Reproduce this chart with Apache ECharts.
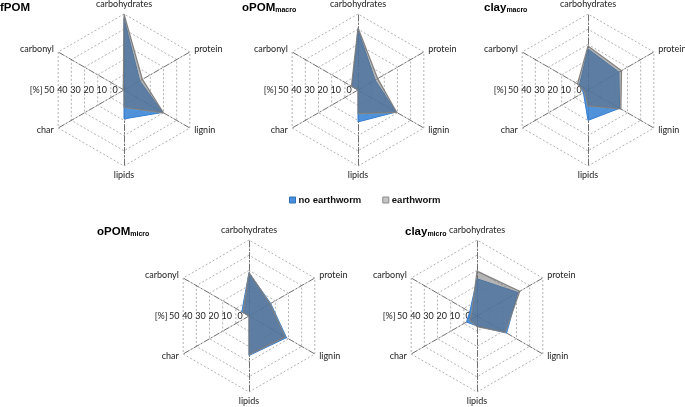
<!DOCTYPE html>
<html><head><meta charset="utf-8">
<script src="https://cdn.jsdelivr.net/npm/echarts@6/dist/echarts.min.js"></script>
<style>html,body{margin:0;padding:0;background:#fff}#c{width:685px;height:407px}</style>
</head><body><div id="c"></div>
<script>
// categories in clockwise order starting at top
const categories = ['carbohydrates', 'protein', 'lignin', 'lipids', 'char', 'carbonyl'];
const panelNames = ['fPOM', 'oPOM', 'clay', 'oPOM', 'clay'];
const panelSubs = ['', 'macro', 'macro', 'micro', 'micro'];
const seriesNames = ['no earthworm', 'earthworm'];
const radialMax = 50;
const radialStep = 10;
const radialUnit = '[%]';

// values [%] per panel, in category order
const fPOM_no = [47, 12, 29.5, 19, 0, 0.5];
const fPOM_ew = [50, 14, 30, 11.5, 0, 0.5];
const oPOMmacro_no = [39.5, 13, 29, 21, 0, 4.5];
const oPOMmacro_ew = [41, 15, 29.5, 15.5, 0, 5];
const claymacro_no = [27, 23.5, 24, 20, 3.5, 6.5];
const claymacro_ew = [29, 25.5, 25, 10.5, 2.5, 8];
const oPOMmicro_no = [28.5, 16.5, 28.5, 26, 0, 5.5];
const oPOMmicro_ew = [28.5, 16, 27.5, 25.5, 0, 4.5];
const claymicro_no = [24.5, 31, 22.5, 6.5, 8, 5.5];
const claymicro_ew = [29.5, 32.5, 21.5, 7, 5.5, 4];

const noEarthworm = [fPOM_no, oPOMmacro_no, claymacro_no, oPOMmicro_no, claymicro_no];
const earthworm = [fPOM_ew, oPOMmacro_ew, claymacro_ew, oPOMmicro_ew, claymicro_ew];

// layout
const centers = [[124, 90], [358, 90], [588, 90], [249, 316], [477, 316]];
const titlePos = [[0, 0], [242, 0], [484, 0], [97, 224], [405, 224]];
const R = 76;
const labelShift = 9;
const FONT = 'Lato';
const FS = 9;

// ECharts radar runs counter-clockwise: reorder clockwise categories
const ccwOrder = [0, 5, 4, 3, 2, 1];
const reorder = arr => ccwOrder.map(i => arr[i]);

const blueFill = 'rgba(50,128,212,0.85)';
const blueLine = '#3a7fd0';
const grayFill = 'rgba(105,105,105,0.5)';
const grayLine = '#8a8a8a';

// polar axis used for the radial tick labels laid along the hexagon's vertical edges
const edgeMax = radialMax / Math.cos(Math.PI / 6);
const labelAxisMax = radialMax + radialStep;

const radar = centers.map(c => ({
  center: c,
  radius: R,
  startAngle: 90,
  shape: 'polygon',
  splitNumber: radialMax / radialStep,
  indicator: reorder(categories).map(n => ({ name: n, min: 0, max: radialMax })),
  axisName: { color: '#222', fontSize: FS, fontFamily: FONT },
  nameGap: 5,
  axisLine: { lineStyle: { color: '#4a4a4a', width: 0.8, type: [6, 2, 1.5, 2] } },
  splitLine: { lineStyle: { color: '#a0a0a0', width: 0.8, type: [2, 2] } },
  splitArea: { show: false },
  axisTick: { show: false },
  axisLabel: { show: false }
}));

const polar = centers.map(c => ({
  center: [c[0] - labelShift, c[1]],
  radius: R * labelAxisMax / edgeMax
}));
const angleAxis = centers.map((c, i) => ({ polarIndex: i, startAngle: 180, show: false, min: 0, max: 360 }));
const radiusAxis = centers.map((c, i) => ({
  polarIndex: i,
  min: 0, max: labelAxisMax, interval: radialStep,
  axisLine: { show: false }, axisTick: { show: false }, splitLine: { show: false },
  axisLabel: {
    margin: 0, align: 'center', verticalAlign: 'middle',
    color: '#222', fontSize: FS, fontFamily: FONT,
    showMaxLabel: true,
    formatter: v => (v > radialMax ? radialUnit : String(v))
  }
}));

const title = panelNames.map((n, i) => ({
  text: panelSubs[i] ? `{a|${n}}{b|${panelSubs[i]}}` : `{a|${n}}`,
  left: titlePos[i][0], top: titlePos[i][1], padding: 0,
  textStyle: {
    rich: {
      a: { fontSize: 11.5, fontWeight: 'bold', fontFamily: 'Liberation Sans', color: '#000', lineHeight: 14, verticalAlign: 'bottom' },
      b: { fontSize: 7, fontWeight: 'bold', fontFamily: 'Liberation Sans', color: '#000', lineHeight: 6, verticalAlign: 'bottom' }
    }
  }
}));

const series = centers.map((c, i) => ({
  type: 'radar',
  radarIndex: i,
  symbol: 'none',
  silent: true,
  data: [
    { name: seriesNames[0], value: reorder(noEarthworm[i]),
      itemStyle: { color: blueFill },
      areaStyle: { color: blueFill, opacity: 1 },
      lineStyle: { color: blueLine, width: 1 } },
    { name: seriesNames[1], value: reorder(earthworm[i]),
      itemStyle: { color: grayFill },
      areaStyle: { color: grayFill, opacity: 1 },
      lineStyle: { color: grayLine, width: 1.2 } }
  ]
}));

const chart = echarts.init(document.getElementById('c'), null, { renderer: 'canvas' });
chart.setOption({
  animation: false,
  backgroundColor: '#fff',
  title,
  legend: {
    data: [
      { name: seriesNames[0], itemStyle: { color: '#4a8fdc', borderColor: '#2f6fb8', borderWidth: 1 } },
      { name: seriesNames[1], itemStyle: { color: '#c4c4c4', borderColor: '#8a8a8a', borderWidth: 1 } }
    ],
    left: 289, top: 195, padding: 0,
    icon: 'rect', itemWidth: 6, itemHeight: 6, itemGap: 21,
    textStyle: { fontSize: 9.5, fontWeight: 'bold', fontFamily: 'Liberation Sans', color: '#111', padding: [0, 0, 0, -2] }
  },
  radar,
  polar,
  angleAxis,
  radiusAxis,
  series
});
</script></body></html>
